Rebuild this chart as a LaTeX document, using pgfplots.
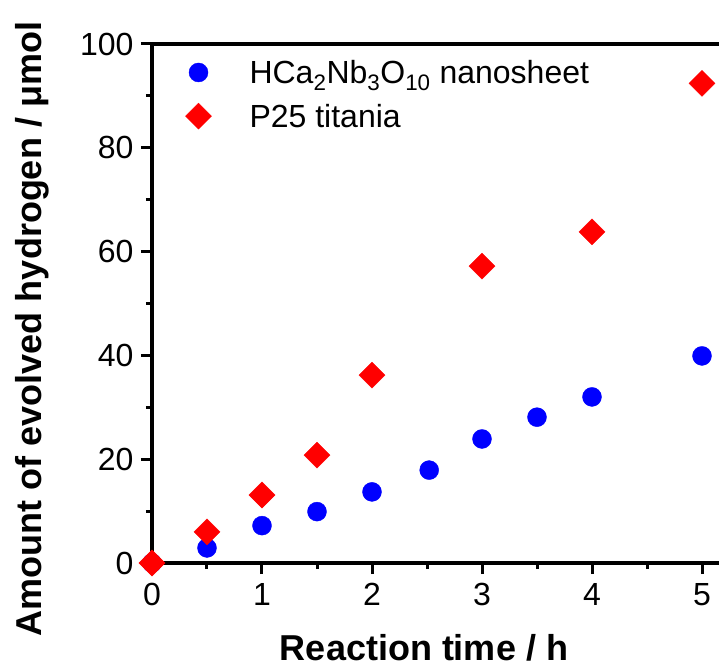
\documentclass[border=0pt]{standalone}
\usepackage{fontspec}
\setmainfont{Liberation Sans}
\usepackage{pgfplots}
\pgfplotsset{compat=1.18}

\begin{document}
\begin{tikzpicture}
\useasboundingbox (-152pt,-103pt) rectangle (567pt,563pt);
\clip (-152pt,-103pt) rectangle (567pt,563pt);
\begin{axis}[
    scale only axis,
    width=583pt, height=519pt,
    xmin=0, xmax=5.3,
    ymin=0, ymax=100,
    xtick={0,1,2,3,4,5},
    ytick={0,20,40,60,80,100},
    minor x tick num=1,
    minor y tick num=1,
    xtick pos=bottom, ytick pos=left,
    tick align=outside,
    major tick length=11pt,
    minor tick length=6pt,
    axis line style={line width=3.5pt},
    every tick/.style={line width=3pt, black},
    /pgf/number format/assume math mode=true,
    tick label style={font=\fontsize{32}{38}\selectfont},
    xticklabel style={yshift=-6pt},
    yticklabel style={xshift=-4pt},
    xlabel={\textbf{Reaction time / h}},
    ylabel={\textbf{Amount of evolved hydrogen / μmol}},
    label style={font=\fontsize{36}{42}\selectfont},
    xlabel style={at={(axis description cs:0.4666,-0.187)}, anchor=base},
    ylabel style={at={(axis description cs:-0.1887,0.4509)}, anchor=base},
    clip=false,
    legend style={draw=none, fill=none, at={(axis description cs:0.052,0.977)},
        anchor=north west, font=\fontsize{32}{40}\selectfont,
        row sep=15pt,
        /tikz/every odd column/.append style={column sep=36pt}},
    legend cell align=left,
]
\addplot[only marks, mark=*, mark size=9.5pt, color=blue, fill=blue]
coordinates {
    (0,0) (0.5,2.9) (1,7.2) (1.5,9.9) (2,13.7) (2.52,17.9)
    (3,23.9) (3.5,28.1) (4,32.0) (5,39.9)
};
\addlegendentry{HCa\textsubscript{2}Nb\textsubscript{3}O\textsubscript{10} nanosheet}
\addplot[only marks, mark=square*, mark size=9.2pt, mark options={rotate=45}, color=red, fill=red]
coordinates {
    (0,0) (0.5,6.0) (1,13.1) (1.5,20.8) (2,36.2)
    (3,57.2) (4,63.8) (5,92.4)
};
\addlegendentry{P25 titania}
\end{axis}
\end{tikzpicture}
\end{document}
